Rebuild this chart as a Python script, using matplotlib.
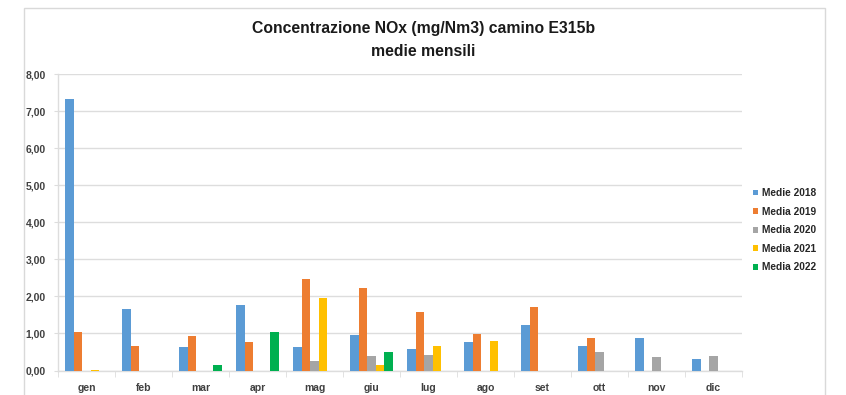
import matplotlib
matplotlib.use("Agg")
import matplotlib.pyplot as plt
import numpy as np
from matplotlib.patches import Rectangle

months = ["gen", "feb", "mar", "apr", "mag", "giu", "lug", "ago", "set", "ott", "nov", "dic"]
series_names = ["Medie 2018", "Media 2019", "Media 2020", "Media 2021", "Media 2022"]
colors = ["#5B9BD5", "#ED7D31", "#A5A5A5", "#FFC000", "#00B050"]

nan = np.nan
medie_2018 = [7.34, 1.66, 0.63, 1.76, 0.63, 0.97, 0.59, 0.77, 1.23, 0.65, 0.88, 0.31]
media_2019 = [1.03, 0.65, 0.93, 0.78, 2.46, 2.22, 1.57, 0.98, 1.72, 0.88, nan, nan]
media_2020 = [0.00, nan, nan, nan, 0.25, 0.40, 0.41, nan, nan, 0.50, 0.37, 0.40]
media_2021 = [0.01, nan, nan, nan, 1.96, 0.16, 0.65, 0.81, nan, nan, nan, nan]
media_2022 = [nan, nan, 0.16, 1.03, nan, 0.51, nan, nan, nan, nan, nan, nan]
series = [medie_2018, media_2019, media_2020, media_2021, media_2022]

yticks = [0, 1, 2, 3, 4, 5, 6, 7, 8]
ytick_labels = ["0,00", "1,00", "2,00", "3,00", "4,00", "5,00", "6,00", "7,00", "8,00"]

plt.rcParams["font.family"] = ["Liberation Sans", "DejaVu Sans"]

W, H = 846, 395
fig = plt.figure(figsize=(W / 100, H / 100), dpi=100)
fig.patch.set_facecolor("white")

# outer chart frame
frame = Rectangle((24 / W, -0.05), (825 - 24) / W, (H - 8) / H + 0.05,
                  transform=fig.transFigure, fill=False, edgecolor="#D9D9D9",
                  linewidth=1.0, zorder=0)
fig.patches.append(frame)

left, right = 58 / W, 742 / W
bottom, top = (H - 370.5) / H, (H - 74.3) / H
ax = fig.add_axes([left, bottom, right - left, top - bottom])

x = np.arange(len(months))
bw = 0.15
for i, (vals, name, c) in enumerate(zip(series, series_names, colors)):
    offs = (i - 2) * bw
    ax.bar(x + offs, vals, width=bw, color=c, label=name, zorder=3)

ax.set_xlim(-0.5, len(months) - 0.5)
ax.set_ylim(0, 8)
ax.set_yticks(yticks)
ax.set_yticklabels(ytick_labels)
ax.set_xticks(x)
ax.set_xticklabels(months)
ax.set_xticks(np.arange(-0.5, len(months)), minor=True)

ax.grid(axis="y", color="#DDDDDD", linewidth=1.0, zorder=0)
for s in ["top", "right"]:
    ax.spines[s].set_visible(False)
ax.spines["left"].set_color("#DDDDDD")
ax.spines["bottom"].set_color("#DDDDDD")
ax.spines["left"].set_linewidth(1.0)
ax.spines["bottom"].set_linewidth(1.0)

ax.tick_params(axis="y", length=3, color="#DDDDDD", pad=6, labelsize=7.5, labelcolor="#404040")
ax.tick_params(axis="x", which="major", length=0, pad=9, labelsize=7.5, labelcolor="#404040")
ax.tick_params(axis="x", which="minor", length=4, color="#DDDDDD")
for lab in ax.get_xticklabels() + ax.get_yticklabels():
    lab.set_fontweight("bold")

fig.text(424 / W, (H - 28) / H, "Concentrazione NOx (mg/Nm3) camino E315b",
         ha="center", va="center", fontsize=11.3, fontweight="bold", color="#1A1A1A")
fig.text(423 / W, (H - 51) / H, "medie mensili",
         ha="center", va="center", fontsize=11.3, fontweight="bold", color="#1A1A1A")

leg = fig.legend(loc="upper left", bbox_to_anchor=(753 / W, (H - 188) / H),
                 frameon=False, fontsize=7.3, handlelength=0.5, handleheight=0.5,
                 handletextpad=0.4, labelspacing=0.85, borderaxespad=0, borderpad=0)
for t in leg.get_texts():
    t.set_fontweight("bold")
    t.set_color("#262626")

fig.savefig("out.png", dpi=100)
